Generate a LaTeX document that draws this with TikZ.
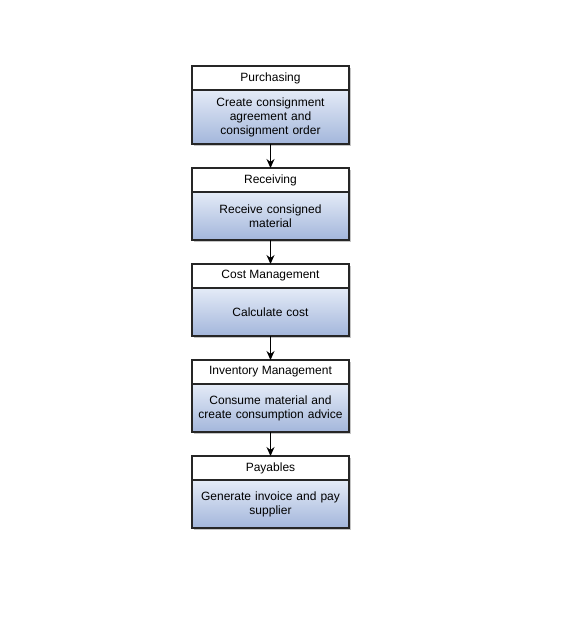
\documentclass[tikz,border=0pt]{standalone}
\usepackage{fontspec}
\setmainfont{Liberation Sans}
\usetikzlibrary{positioning}
\usetikzlibrary{shadows}
\usetikzlibrary{arrows.meta}
\tikzset{>=stealth}
\definecolor{tasktop}{HTML}{E4EBF7}
\definecolor{taskbot}{HTML}{A3B6DB}

\begin{document}
\begin{tikzpicture}
	[x=1pt,y=1pt,node distance=24pt,
	stage/.style={rectangle,draw=black!85,fill=white,line width=1.1pt,minimum width=157pt,minimum height=24pt,inner sep=0pt,outer sep=0pt,font=\fontsize{12}{14}\selectfont,drop shadow={shadow xshift=2pt,shadow yshift=-2pt,fill=black!45}},
	task/.style={rectangle,draw=black!85,line width=1.1pt,top color=tasktop,bottom color=taskbot,minimum width=157pt,minimum height=48pt,inner sep=0pt,outer sep=0pt,text width=152pt,align=center,font=\fontsize{12}{14}\selectfont,drop shadow={shadow xshift=2pt,shadow yshift=-2pt,fill=black!45}},
	flow/.style={->,>={Stealth[length=9pt,width=8pt]},line width=1pt}]
	\useasboundingbox (0,0) rectangle (576,-624);
	\node [stage] (purch) at (270.5,-78) {Purchasing};
	\node [task,minimum height=54pt] (purchtask) [below=0pt of purch] {Create consignment\\agreement and\\consignment order};
	\node [stage] (recv) [below=of purchtask] {Receiving};
	\node [task] (recvtask) [below=0pt of recv] {Receive consigned\\material};
	\node [stage] (cost) [below=of recvtask] {Cost Management};
	\node [task] (costtask) [below=0pt of cost] {Calculate cost};
	\node [stage] (inv) [below=of costtask] {Inventory Management};
	\node [task] (invtask) [below=0pt of inv] {Consume material and\\create consumption advice};
	\node [stage] (pay) [below=of invtask] {Payables};
	\node [task] (paytask) [below=0pt of pay] {Generate invoice and pay\\supplier};
	\draw[flow] (purchtask) -- (recv);
	\draw[flow] (recvtask) -- (cost);
	\draw[flow] (costtask) -- (inv);
	\draw[flow] (invtask) -- (pay);
\end{tikzpicture}
\end{document}
